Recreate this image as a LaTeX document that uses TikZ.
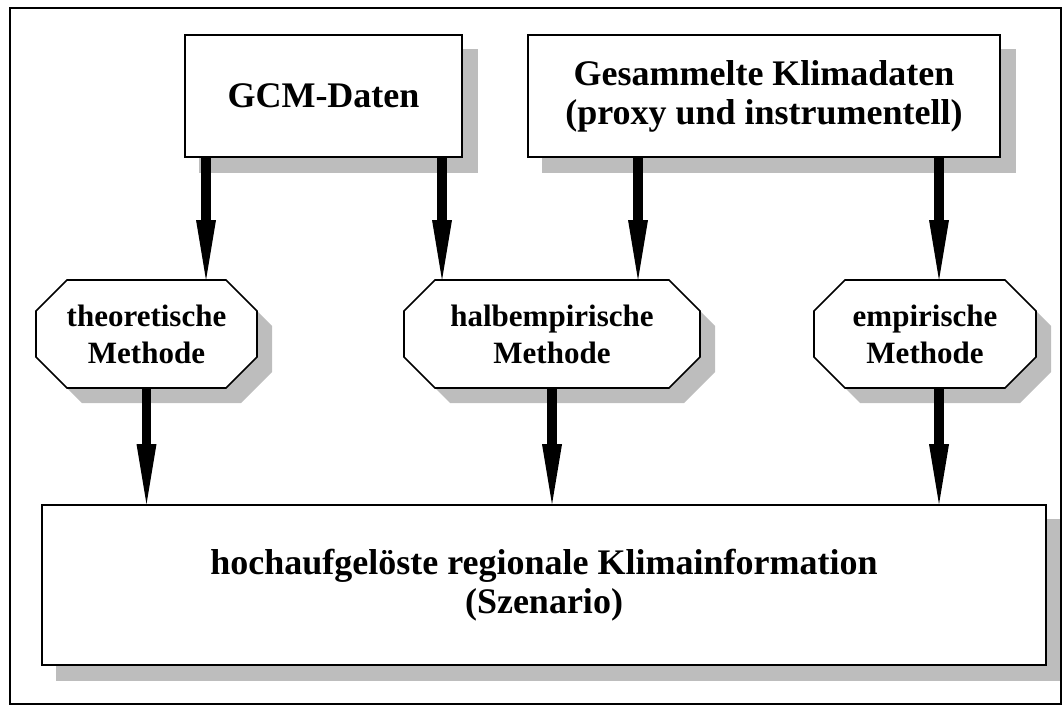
\documentclass[tikz,border=0pt]{standalone}
\usepackage{fontspec}
\setmainfont{Liberation Serif}
\usetikzlibrary{arrows.meta,calc}
\pgfdeclarelayer{background}
\pgfsetlayers{background,main}

% octagon around node #1, shifted by (#2,#3); corners cut by 31pt
\newcommand\octagonpath[3]{%
  ($(#1.north west)+(31+#2,#3)$) -- ($(#1.north east)+(-31+#2,#3)$) --
  ($(#1.north east)+(#2,31+#3)$) -- ($(#1.south east)+(#2,-31+#3)$) --
  ($(#1.south east)+(-31+#2,#3)$) -- ($(#1.south west)+(31+#2,#3)$) --
  ($(#1.south west)+(#2,-31+#3)$) -- ($(#1.north west)+(#2,31+#3)$) -- cycle}

\begin{document}
\begin{tikzpicture}[x=1pt,y=-1pt,
  databox/.style={rectangle, draw=black, line width=1.6pt, fill=white,
    inner sep=0pt, align=center, font=\bfseries\fontsize{36}{39}\selectfont},
  method/.style={rectangle, inner sep=0pt, outer sep=0pt, align=center,
    font=\bfseries\fontsize{31}{37}\selectfont},
  octline/.style={draw=black, line width=1.6pt, fill=white, line join=miter},
  dropshade/.style={fill=black!26},
  flow/.style={line width=9.5pt,
    -{Triangle[width=20pt,length=60pt,line width=0pt]}}]
\useasboundingbox (0,0) rectangle (1064,709);

% outer frame
\draw[line width=1.5pt] (10,8) rectangle (1061,704);

% sources
\node[databox, minimum width=277pt, minimum height=122pt] (gcm) at (323.5,96)
  {GCM-Daten};
\node[databox, minimum width=472pt, minimum height=122pt] (klima) at (764,96)
  {Gesammelte Klimadaten\\(proxy und instrumentell)};

% methods
\node[method, minimum width=221pt, minimum height=108pt] (theo) at (146.5,334)
  {theoretische\\Methode};
\node[method, minimum width=296pt, minimum height=108pt] (halb) at (552,334)
  {halbempirische\\Methode};
\node[method, minimum width=222pt, minimum height=108pt] (emp) at (925,334)
  {empirische\\Methode};

% result
\node[databox, minimum width=1004pt, minimum height=160pt] (szen) at (544,585)
  {hochaufgelöste regionale Klimainformation\\(Szenario)};

% shadows and octagon outlines behind the texts
\begin{pgfonlayer}{background}
  \foreach \n in {gcm,klima,szen}
    \fill[dropshade] ($(\n.north west)+(15,15)$) rectangle ($(\n.south east)+(15,15)$);
  \foreach \n in {theo,halb,emp} {
    \fill[dropshade] \octagonpath{\n}{15}{15};
    \draw[octline] \octagonpath{\n}{0}{0};
  }
\end{pgfonlayer}

% arrow columns
\coordinate (a1) at (206,0);
\coordinate (a2) at (442,0);
\coordinate (a3) at (638,0);
\coordinate (a4) at (939,0);

\draw[flow] (gcm.south -| a1) -- (theo.north -| a1);
\draw[flow] (gcm.south -| a2) -- (halb.north -| a2);
\draw[flow] (klima.south -| a3) -- (halb.north -| a3);
\draw[flow] (klima.south -| a4) -- (emp.north -| a4);
\draw[flow] (theo.south) -- (szen.north -| theo.south);
\draw[flow] (halb.south) -- (szen.north -| halb.south);
\draw[flow] (emp.south -| a4) -- (szen.north -| a4);
\end{tikzpicture}
\end{document}
